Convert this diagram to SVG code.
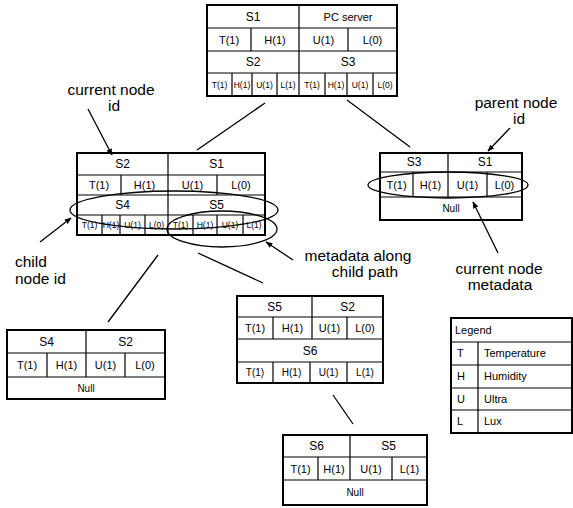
<svg xmlns="http://www.w3.org/2000/svg" width="573" height="508" viewBox="0 0 573 508">
<style>
.bx{fill:#fff;stroke:#000;stroke-width:2}
.ln{stroke:#000;stroke-width:1.2;fill:none}
.cn{stroke:#000;stroke-width:1.3;fill:none}
.el{stroke:#000;stroke-width:1.3;fill:none}
text{font-family:"Liberation Sans",Arial,sans-serif;fill:#000;text-anchor:middle}
.h{font-size:12px}
.m{font-size:11px}
.s{font-size:8.5px}
.n{font-size:10px}
.lb{font-size:15.5px}
.st{text-anchor:start}
.lg{font-size:11px;text-anchor:start}
</style>
<defs>
<marker id="ah" viewBox="0 0 10 10" refX="9" refY="5" markerWidth="7" markerHeight="7" orient="auto" markerUnits="userSpaceOnUse">
<path d="M0,1 L10,5 L0,9 z" fill="#000"/>
</marker>
</defs>

<g id="connectors">
<line class="cn" x1="265" y1="103" x2="197" y2="150"/>
<line class="cn" x1="347" y1="100" x2="410" y2="147"/>
<line class="cn" x1="158" y1="255" x2="108" y2="322"/>
<line class="cn" x1="198" y1="253" x2="263" y2="283"/>
<line class="cn" x1="333" y1="395" x2="353" y2="424"/>
</g>

<g id="node-top">
<rect class="bx" x="207" y="5" width="190" height="91"/>
<path class="ln" d="M207,28H397M207,51H397M207,73H397M299,5V96M251,28V51M348,28V51M232,73V96M252,73V96M277,73V96M325,73V96M347,73V96M373,73V96"/>
<text class="h" x="253" y="21">S1</text>
<text class="m" x="348" y="21">PC server</text>
<text class="m" x="229" y="44">T(1)</text>
<text class="m" x="275" y="44">H(1)</text>
<text class="m" x="323.5" y="44">U(1)</text>
<text class="m" x="372.5" y="44">L(0)</text>
<text class="h" x="253" y="66">S2</text>
<text class="h" x="348" y="66">S3</text>
<text class="s" x="219.5" y="88">T(1)</text>
<text class="s" x="242" y="88">H(1)</text>
<text class="s" x="264.5" y="88">U(1)</text>
<text class="s" x="288" y="88">L(1)</text>
<text class="s" x="312" y="88">T(1)</text>
<text class="s" x="336" y="88">H(1)</text>
<text class="s" x="360" y="88">U(1)</text>
<text class="s" x="385" y="88">L(0)</text>
</g>

<g id="node-left">
<rect class="bx" x="77" y="153" width="188" height="82"/>
<path class="ln" d="M77,175H265M77,195H265M77,215H265M168,153V235M121,175V195M217,175V195M102,215V235M120,215V235M145,215V235M193,215V235M217,215V235M243,215V235"/>
<text class="h" x="122.5" y="168">S2</text>
<text class="h" x="216.5" y="168">S1</text>
<text class="m" x="99" y="189">T(1)</text>
<text class="m" x="144.5" y="189">H(1)</text>
<text class="m" x="192.5" y="189">U(1)</text>
<text class="m" x="241" y="189">L(0)</text>
<text class="h" x="122.5" y="209">S4</text>
<text class="h" x="216.5" y="209">S5</text>
<text class="s" x="89.5" y="228">T(1)</text>
<text class="s" x="111" y="228">H(1)</text>
<text class="s" x="132.5" y="228">U(1)</text>
<text class="s" x="156.5" y="228">L(0)</text>
<text class="s" x="180.5" y="228">T(1)</text>
<text class="s" x="205" y="228">H(1)</text>
<text class="s" x="230" y="228">U(1)</text>
<text class="s" x="254" y="228">L(1)</text>
<ellipse class="el" cx="174" cy="210" rx="104" ry="19"/>
<ellipse class="el" cx="222" cy="229" rx="55" ry="18"/>
</g>

<g id="node-right">
<rect class="bx" x="380" y="153" width="142" height="67"/>
<path class="ln" d="M380,172H522M380,197H522M448,153V197M413,172V197M487,172V197"/>
<text class="h" x="414" y="166">S3</text>
<text class="h" x="485" y="166">S1</text>
<text class="m" x="396.5" y="189">T(1)</text>
<text class="m" x="430.5" y="189">H(1)</text>
<text class="m" x="467.5" y="189">U(1)</text>
<text class="m" x="504.5" y="189">L(0)</text>
<text class="n" x="451" y="212">Null</text>
<ellipse class="el" cx="448" cy="185" rx="80" ry="13"/>
</g>

<g id="node-middle">
<rect class="bx" x="237" y="296" width="146" height="87"/>
<path class="ln" d="M237,317H383M237,339H383M237,362H383M312,296V317M273,317V339M312,317V339M347,317V339M273,362V383M310,362V383M347,362V383"/>
<text class="h" x="274.5" y="310.5">S5</text>
<text class="h" x="347.5" y="310.5">S2</text>
<text class="m" x="255" y="332">T(1)</text>
<text class="m" x="292.5" y="332">H(1)</text>
<text class="m" x="329.5" y="332">U(1)</text>
<text class="m" x="365" y="332">L(0)</text>
<text class="h" x="310" y="355">S6</text>
<text class="n" x="255" y="376">T(1)</text>
<text class="n" x="291.5" y="376">H(1)</text>
<text class="n" x="328.5" y="376">U(1)</text>
<text class="n" x="365" y="376">L(1)</text>
</g>

<g id="node-bottom-left">
<rect class="bx" x="7" y="330" width="158" height="69"/>
<path class="ln" d="M7,353H165M7,377H165M86,330V377M47,353V377M125,353V377"/>
<text class="h" x="46.5" y="345.5">S4</text>
<text class="h" x="125.5" y="345.5">S2</text>
<text class="m" x="27" y="369">T(1)</text>
<text class="m" x="66.5" y="369">H(1)</text>
<text class="m" x="105.5" y="369">U(1)</text>
<text class="m" x="145" y="369">L(0)</text>
<text class="n" x="86" y="392">Null</text>
</g>

<g id="node-bottom">
<rect class="bx" x="283" y="435" width="144" height="70"/>
<path class="ln" d="M283,457H427M283,480H427M350,435V480M318,457V480M392,457V480"/>
<text class="h" x="316.5" y="450">S6</text>
<text class="h" x="388.5" y="450">S5</text>
<text class="m" x="300.5" y="472.5">T(1)</text>
<text class="m" x="334" y="472.5">H(1)</text>
<text class="m" x="371" y="472.5">U(1)</text>
<text class="m" x="409.5" y="472.5">L(1)</text>
<text class="n" x="355" y="496">Null</text>
</g>

<g id="legend">
<rect class="bx" x="451" y="318" width="121" height="115"/>
<path class="ln" d="M451,342H572M451,365H572M451,388H572M451,410H572M478,342V433"/>
<text class="lg" x="455" y="334">Legend</text>
<text class="lg" x="457" y="357">T</text>
<text class="lg" x="484" y="357">Temperature</text>
<text class="lg" x="457" y="380">H</text>
<text class="lg" x="484" y="380">Humidity</text>
<text class="lg" x="457" y="403">U</text>
<text class="lg" x="484" y="403">Ultra</text>
<text class="lg" x="457" y="425">L</text>
<text class="lg" x="484" y="425">Lux</text>
</g>

<g id="annotations">
<line class="cn" x1="88" y1="109" x2="112" y2="155" marker-end="url(#ah)"/>
<line class="cn" x1="40" y1="242" x2="71" y2="218" marker-end="url(#ah)"/>
<line class="cn" x1="510" y1="128" x2="488" y2="151" marker-end="url(#ah)"/>
<line class="cn" x1="498" y1="253" x2="473" y2="202" marker-end="url(#ah)"/>
<line class="cn" x1="293" y1="260" x2="266" y2="242" marker-end="url(#ah)"/>
<text class="lb" x="111" y="95">current node</text>
<text class="lb" x="114" y="111">id</text>
<text class="lb st" x="15" y="267">child</text>
<text class="lb st" x="15" y="284">node id</text>
<text class="lb" x="516" y="108">parent node</text>
<text class="lb" x="519" y="124">id</text>
<text class="lb" x="499" y="274">current node</text>
<text class="lb" x="500" y="290">metadata</text>
<text class="lb" x="358" y="261">metadata along</text>
<text class="lb" x="365" y="277">child path</text>
</g>
</svg>
